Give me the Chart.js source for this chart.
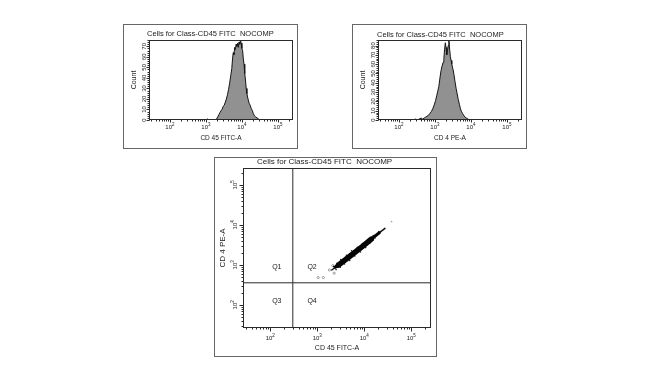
<!DOCTYPE html>
<html>
<head>
<meta charset="utf-8">
<script src="https://cdn.jsdelivr.net/npm/chart.js@4.4.1/dist/chart.umd.min.js"></script>
<style>
  html, body { margin: 0; padding: 0; background: #fff; }
  body { width: 658px; height: 376px; position: relative; overflow: hidden; }
  .panel { position: absolute; border: 1px solid #666; box-sizing: border-box; background: #fff; }
  .panel canvas { display: block; }
</style>
</head>
<body>
<div class="panel" style="left:123px;top:24px;width:175px;height:125px"><canvas id="histCd45" width="173" height="123"></canvas></div>
<div class="panel" style="left:352px;top:24px;width:175px;height:125px"><canvas id="histCd4" width="173" height="123"></canvas></div>
<div class="panel" style="left:214px;top:157px;width:223px;height:200px"><canvas id="dotPlot" width="221" height="198"></canvas></div>
<script>
const FONT = '"Liberation Sans", Arial, sans-serif';
const plotTitle = 'Cells for Class-CD45 FITC  NOCOMP';

// axes are drawn in decades (log10 of the channel value)
const AXIS_MIN = 1.42, AXIS_MAX = 5.42;
const decades = [2, 3, 4, 5];
const cd45CountTicks = [0, 10, 20, 30, 40, 50, 60, 70];
const cd4CountTicks = [0, 10, 20, 30, 40, 50, 60, 70, 80];

// histogram 1: CD 45 FITC-A
const cd45Bins = [3.00,3.04,3.08,3.25,3.30,3.33,3.36,3.39,3.42,3.45,3.48,3.51,3.54,3.57,3.60,3.63,3.66,3.69,3.72,
  3.74,3.76,3.78,3.80,3.82,3.84,3.86,3.88,3.90,3.92,3.94,3.96,3.98,4.00,4.02,4.04,4.06,4.08,4.10,4.12,4.14,
  4.17,4.20,4.23,4.26,4.29,4.32,4.35,4.38,4.42,4.46,4.50];
const cd45Counts = [0,1,0,0,1,3,5,7,9,10,13,14,17,20,24,29,35,42,49,
  58,64,62,69,67,72,70,73,69,74,72,76,73,68,66,58,53,44,38,30,25,
  20,16,14,11,9,6,4,3,2,1,0];

// histogram 2: CD 4 PE-A
const cd4Bins = [2.40,2.46,2.52,2.56,2.62,2.66,2.70,2.74,2.78,2.82,2.86,2.90,2.94,2.98,
  3.02,3.05,3.08,3.11,3.14,3.17,3.20,3.23,
  3.25,3.27,3.29,3.31,3.33,3.35,3.37,3.39,3.41,3.43,3.45,3.47,
  3.50,3.53,3.56,3.59,3.62,3.65,3.68,3.71,3.74,3.77,3.80,3.84,3.88,3.92,3.96];
const cd4Counts = [0,1,0,1,2,1,2,3,4,5,7,9,12,16,
  21,26,31,36,45,53,58,62,
  66,76,83,78,70,74,80,85,76,68,64,60,
  55,49,41,34,28,22,17,12,9,7,5,3,2,1,0];

// dot plot: CD 45 FITC-A vs CD 4 PE-A
const gateX = 2.48, gateY = 2.55;
const quadNames = ['Q1', 'Q2', 'Q3', 'Q4'];
const quadX = [2.14, 2.89, 2.14, 2.89];
const quadY = [2.95, 2.95, 2.10, 2.10];
const tailX = [3.31, 4.44], tailY = [2.87, 3.91];
const midX = [3.38, 4.32], midY = [2.94, 3.80];
const coreX = [3.45, 3.70, 3.95, 4.15], coreY = [2.99, 3.22, 3.45, 3.64];
const edgeX = [3.35,3.40,3.42,3.49,3.50,3.58,3.62,3.69,3.73,3.80,3.85,3.92,3.96,4.03,4.08,4.13,4.19,4.23,4.31];
const edgeY = [2.96,2.88,3.04,2.94,3.13,3.02,3.24,3.11,3.35,3.22,3.44,3.32,3.53,3.43,3.63,3.55,3.73,3.67,3.83];
const sparseX = [3.02, 3.13, 3.26, 3.36, 3.41, 3.33];
const sparseY = [2.68, 2.68, 2.87, 2.79, 2.95, 2.98];
const strayX = [4.58], strayY = [4.08];

Chart.defaults.font.family = FONT;
Chart.defaults.color = '#222';

function logMinor() {
  const out = [];
  for (let d = 1; d <= 5; d++) {
    for (let m = 2; m <= 9; m++) {
      const v = d + Math.log10(m);
      if (v > AXIS_MIN && v < AXIS_MAX) out.push(v);
    }
  }
  return out;
}
function countMinor(max) {
  const out = [];
  for (let v = 0; v <= max; v += 2) out.push(v);
  return out;
}
const pts = (xs, ys) => xs.map((x, i) => ({ x: x, y: ys[i] }));

function drawTickLabel(ctx, v, log) {
  if (!log) {
    ctx.font = '6px ' + FONT;
    ctx.textAlign = 'center';
    ctx.fillText(String(v), 0, 0);
    ctx.textAlign = 'left';
    return;
  }
  ctx.font = '6px ' + FONT;
  const w1 = ctx.measureText('10').width;
  ctx.font = '4.5px ' + FONT;
  const w2 = ctx.measureText(String(v)).width;
  const x0 = -(w1 + w2) / 2;
  ctx.font = '6px ' + FONT;
  ctx.fillText('10', x0, 0);
  ctx.font = '4.5px ' + FONT;
  ctx.fillText(String(v), x0 + w1, -3);
}

function facsFrame(cfg) {
  return {
    id: 'facsFrame',
    afterDraw(chart) {
      const { ctx, chartArea: a } = chart;
      const xs = chart.scales.x, ys = chart.scales.y;
      const L = Math.round(a.left) + 0.5, R = Math.round(a.right) - 0.5;
      const T = Math.round(a.top) + 0.5, B = Math.round(a.bottom) - 0.5;
      ctx.save();
      ctx.strokeStyle = '#2a2a2a';
      ctx.lineWidth = 1;
      ctx.strokeRect(L, T, R - L, B - T);
      ctx.beginPath();
      cfg.x.minor.forEach(v => {
        const p = Math.round(xs.getPixelForValue(v)) + 0.5;
        ctx.moveTo(p, B); ctx.lineTo(p, B + 2);
      });
      cfg.x.major.forEach(v => {
        const p = Math.round(xs.getPixelForValue(v)) + 0.5;
        ctx.moveTo(p, B); ctx.lineTo(p, B + cfg.x.len);
      });
      cfg.y.minor.forEach(v => {
        const p = Math.round(ys.getPixelForValue(v)) + 0.5;
        ctx.moveTo(L, p); ctx.lineTo(L - 2, p);
      });
      cfg.y.major.forEach(v => {
        const p = Math.round(ys.getPixelForValue(v)) + 0.5;
        ctx.moveTo(L, p); ctx.lineTo(L - cfg.y.len, p);
      });
      ctx.stroke();

      ctx.fillStyle = '#222';
      ctx.textBaseline = 'alphabetic';
      cfg.x.major.forEach(v => {
        ctx.save();
        ctx.translate(xs.getPixelForValue(v), B + cfg.x.gap);
        drawTickLabel(ctx, v, cfg.x.log);
        ctx.restore();
      });
      cfg.y.major.forEach(v => {
        ctx.save();
        ctx.translate(L - cfg.y.gap, ys.getPixelForValue(v));
        ctx.rotate(-Math.PI / 2);
        drawTickLabel(ctx, v, cfg.y.log);
        ctx.restore();
      });

      ctx.font = cfg.titleSize + 'px ' + FONT;
      ctx.textAlign = 'left';
      ctx.textBaseline = 'middle';
      ctx.fillText(plotTitle, a.left + cfg.titleDx, cfg.titleY);

      if (cfg.quads) {
        ctx.font = '7px ' + FONT;
        ctx.textAlign = 'center';
        quadNames.forEach((q, i) => {
          ctx.fillText(q, xs.getPixelForValue(quadX[i]), ys.getPixelForValue(quadY[i]));
        });
      }
      ctx.restore();
    }
  };
}

function hiddenAxis(extra) {
  return Object.assign({
    type: 'linear',
    ticks: { display: false },
    grid: { display: false },
    border: { display: false }
  }, extra);
}

function histogram(id, bins, counts, yMax, countTicks, xTitle, titleDx, titleY) {
  return new Chart(document.getElementById(id), {
    type: 'line',
    data: {
      datasets: [{
        data: pts(bins, counts),
        fill: 'origin',
        backgroundColor: '#919191',
        borderColor: '#141414',
        borderWidth: 1,
        pointRadius: 0,
        tension: 0
      }]
    },
    options: {
      responsive: false,
      animation: false,
      events: [],
      layout: { padding: { top: 15, right: 4, left: 0, bottom: 0 } },
      plugins: { legend: { display: false }, tooltip: { enabled: false } },
      scales: {
        x: hiddenAxis({
          min: AXIS_MIN, max: AXIS_MAX,
          title: { display: true, text: xTitle, font: { size: 6.5 }, padding: { top: 0, bottom: 6 } },
          afterFit: s => { s.height = 28; }
        }),
        y: hiddenAxis({
          min: 0, max: yMax,
          title: { display: true, text: 'Count', font: { size: 7 }, padding: { top: 6, bottom: 0 } },
          afterFit: s => { s.width = 25; }
        })
      }
    },
    plugins: [facsFrame({
      titleSize: 7.5, titleDx: titleDx, titleY: titleY,
      x: { major: decades, minor: logMinor(), log: true, len: 3, gap: 9 },
      y: { major: countTicks, minor: countMinor(yMax), log: false, len: 3, gap: 4 }
    })]
  });
}

histogram('histCd45', cd45Bins, cd45Counts, 76, cd45CountTicks, 'CD 45 FITC-A', -2, 9);
histogram('histCd4', cd4Bins, cd4Counts, 86, cd4CountTicks, 'CD 4 PE-A', -1, 10);

new Chart(document.getElementById('dotPlot'), {
  type: 'scatter',
  data: {
    datasets: [
      { data: pts(coreX, coreY), showLine: true, borderColor: '#050505', borderWidth: 5.5, borderCapStyle: 'round', pointRadius: 0 },
      { data: pts(midX, midY), showLine: true, borderColor: '#050505', borderWidth: 3, borderCapStyle: 'round', pointRadius: 0 },
      { data: pts(tailX, tailY), showLine: true, borderColor: '#111', borderWidth: 1.5, borderCapStyle: 'round', pointRadius: 0 },
      { data: pts(edgeX, edgeY), pointRadius: 0.8, pointBackgroundColor: '#222', pointBorderWidth: 0 },
      { data: pts(sparseX, sparseY), pointRadius: 1.1, pointBackgroundColor: '#fff', pointBorderColor: '#888', pointBorderWidth: 0.8 },
      { data: pts(strayX, strayY), pointRadius: 0.9, pointBackgroundColor: '#aaa', pointBorderWidth: 0 },
      { data: [{ x: gateX, y: AXIS_MIN }, { x: gateX, y: AXIS_MAX }], showLine: true, borderColor: '#2a2a2a', borderWidth: 1, pointRadius: 0 },
      { data: [{ x: AXIS_MIN, y: gateY }, { x: AXIS_MAX, y: gateY }], showLine: true, borderColor: '#2a2a2a', borderWidth: 1, pointRadius: 0 }
    ]
  },
  options: {
    responsive: false,
    animation: false,
    events: [],
    layout: { padding: { top: 10, right: 5, left: 0, bottom: 0 } },
    plugins: { legend: { display: false }, tooltip: { enabled: false } },
    scales: {
      x: hiddenAxis({
        min: AXIS_MIN, max: AXIS_MAX,
        title: { display: true, text: 'CD 45 FITC-A', font: { size: 7 }, padding: { top: 0, bottom: 4 } },
        afterFit: s => { s.height = 28; }
      }),
      y: hiddenAxis({
        min: AXIS_MIN, max: AXIS_MAX,
        title: { display: true, text: 'CD 4 PE-A', font: { size: 8 }, padding: { top: 3, bottom: 0 } },
        afterFit: s => { s.width = 28; }
      })
    }
  },
  plugins: [facsFrame({
    titleSize: 8, titleDx: 14, titleY: 4, quads: true,
    x: { major: decades, minor: logMinor(), log: true, len: 4, gap: 12 },
    y: { major: decades, minor: logMinor(), log: true, len: 4, gap: 7 }
  })]
});
</script>
</body>
</html>
